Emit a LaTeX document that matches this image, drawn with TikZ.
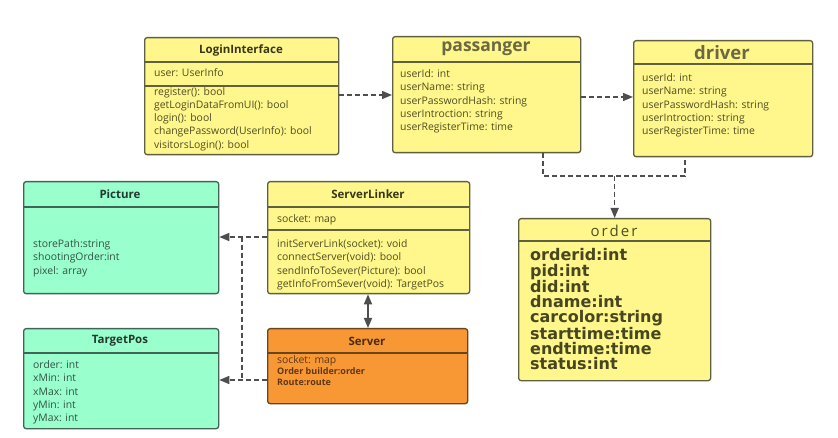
\documentclass[tikz,border=0pt]{standalone}
\usepackage{fontspec}
\setmainfont{Open Sans}
\newfontfamily\dvbold{DejaVu Sans}
\newfontfamily\spacedfont[LetterSpace=14]{Open Sans}
\usetikzlibrary{arrows.meta}
\definecolor{yfill}{RGB}{255,246,140}
\definecolor{yline}{RGB}{95,95,65}
\definecolor{ytext}{RGB}{78,78,35}
\definecolor{gfill}{RGB}{153,255,204}
\definecolor{gline}{RGB}{65,100,85}
\definecolor{gtext}{RGB}{50,82,68}
\definecolor{ofill}{RGB}{248,152,52}
\definecolor{oline}{RGB}{105,68,30}
\definecolor{otext}{RGB}{95,55,20}
\definecolor{arr}{RGB}{78,78,78}
\tikzset{
  box/.style={draw, line width=1.3pt, rounded corners=2.5pt, inner sep=0pt, anchor=north west},
  ybox/.style={box, fill=yfill, draw=yline},
  gbox/.style={box, fill=gfill, draw=gline},
  obox/.style={box, fill=ofill, draw=oline},
  ysep/.style={draw=yline, line width=1.3pt},
  gsep/.style={draw=gline, line width=1.3pt},
  osep/.style={draw=oline, line width=1.3pt},
  txt/.style={anchor=north west, inner sep=0pt, align=left, font=\fontsize{10.4}{13.3}\selectfont},
  ttl/.style={inner sep=0pt, font=\fontsize{11.5}{13}\selectfont\bfseries},
  bigttl/.style={inner sep=0pt, font=\fontsize{17.5}{20}\selectfont\bfseries},
  dep/.style={draw=arr, line width=1.4pt, dash pattern=on 5pt off 3pt},
  tip/.style={-{Triangle[length=10pt,width=8pt]}},
}
\begin{document}
\begin{tikzpicture}[x=1pt,y=-1pt]
\useasboundingbox[fill=white] (0,0) rectangle (838,438);
% LoginInterface
\node[ybox, minimum width=194pt, minimum height=117pt] (login) at (144,37) {};
\draw[ysep] (144,62) -- (338,62);
\draw[ysep] (144,86) -- (338,86);
\node[ttl, text=ytext!70!black] (loginT) at (241,50) {LoginInterface};
\node[txt, text=ytext] (loginA) at (154,68.5) {user: UserInfo};
\node[txt, text=ytext] (loginM) at (154,87) {register(): bool\\getLoginDataFromUI(): bool\\login(): bool\\changePassword(UserInfo): bool\\visitorsLogin(): bool};
% passanger
\node[ybox, minimum width=188pt, minimum height=116pt] (pass) at (392,36) {};
\draw[ysep] (392,62) -- (580,62);
\node[bigttl, text=ytext!85] (passT) at (486,49) {passanger};
\node[txt, text=ytext] (passA) at (400,69.5) {userId: int\\userName: string\\userPasswordHash: string\\userIntroction: string\\userRegisterTime: time};
% driver
\node[ybox, minimum width=179pt, minimum height=116pt] (driver) at (633,40) {};
\draw[ysep] (633,64) -- (812,64);
\node[bigttl, font=\fontsize{18.5}{20}\selectfont\bfseries, text=ytext!85] (driverT) at (722,53) {driver};
\node[txt, text=ytext] (driverA) at (642,73.5) {userId: int\\userName: string\\userPasswordHash: string\\userIntroction: string\\userRegisterTime: time};
% Picture
\node[gbox, minimum width=195pt, minimum height=112pt] (pic) at (23,181) {};
\draw[gsep] (23,207) -- (218,207);
\node[ttl, text=gtext!70!black] (picT) at (120,194) {Picture};
\node[txt, text=gtext] (picA) at (33,239.5) {storePath:string\\shootingOrder:int\\pixel: array};
% ServerLinker
\node[ybox, minimum width=202pt, minimum height=112pt] (link) at (267,181) {};
\draw[ysep] (267,207) -- (469,207);
\draw[ysep] (267,230) -- (469,230);
\node[ttl, text=ytext!70!black] (linkT) at (368,194) {ServerLinker};
\node[txt, text=ytext] (linkA) at (277,214.5) {socket: map};
\node[txt, text=ytext] (linkM) at (277,239.5) {initServerLink(socket): void\\connectServer(void): bool\\sendInfoToSever(Picture): bool\\getInfoFromSever(void): TargetPos};
% TargetPos
\node[gbox, minimum width=195pt, minimum height=100pt] (tpos) at (23,328) {};
\draw[gsep] (23,353) -- (218,353);
\node[ttl, text=gtext!70!black] (tposT) at (120,341) {TargetPos};
\node[txt, text=gtext] (tposA) at (33,360.5) {order: int\\xMin: int\\xMax: int\\yMin: int\\yMax: int};
% Server
\node[obox, minimum width=200pt, minimum height=75pt] (server) at (267,328) {};
\draw[osep] (267,353) -- (467,353);
\node[ttl, text=otext!80!black] (serverT) at (367,341) {Server};
\node[txt, text=otext] (serverA) at (277,355.5) {socket: map};
\node[txt, text=otext, font=\fontsize{9}{11.3}\selectfont\bfseries] (serverB) at (277,367.5) {Order builder:order\\Route:route};
% order
\node[ybox, minimum width=192pt, minimum height=162pt] (order) at (518,218) {};
\draw[ysep] (518,241) -- (710,241);
\node[inner sep=0pt, text=ytext, font=\fontsize{15}{17}\spacedfont] (orderT) at (614,231) {order};
\node[anchor=north west, inner sep=0pt, align=left, text=ytext!90!black, font=\fontsize{16}{15.2}\dvbold\bfseries] (orderA) at (530,248.5) {orderid:int\\pid:int\\did:int\\dname:int\\carcolor:string\\starttime:time\\endtime:time\\status:int};
% connectors
\coordinate (yA) at (0,95);
\coordinate (yB) at (0,97);
\coordinate (yJ) at (0,176);
\coordinate (xP) at (543,0);
\coordinate (xD) at (685,0);
\coordinate (yPic) at (0,237);
\coordinate (yTp) at (0,380);
\coordinate (xV) at (242,0);
\coordinate (xLS) at (368,0);
\draw[dep, tip] (login.east |- yA) -- (pass.west |- yA);
\draw[dep, tip] (pass.east |- yB) -- (driver.west |- yB);
\draw[dep] (pass.south -| xP) -- (xP |- yJ) -- (xD |- yJ) -- (driver.south -| xD);
\draw[dep, tip] (order.north |- yJ) -- (order.north);
\draw[dep, tip] (link.west |- yPic) -- (pic.east |- yPic);
\draw[dep, tip] (server.west |- yTp) -- (tpos.east |- yTp);
\draw[dep] (xV |- yPic) -- (xV |- yTp);
\draw[draw=arr, line width=1.4pt, {Triangle[length=10pt,width=8pt]}-{Triangle[length=10pt,width=8pt]}] (link.south -| xLS) -- (server.north -| xLS);
\end{tikzpicture}
\end{document}
